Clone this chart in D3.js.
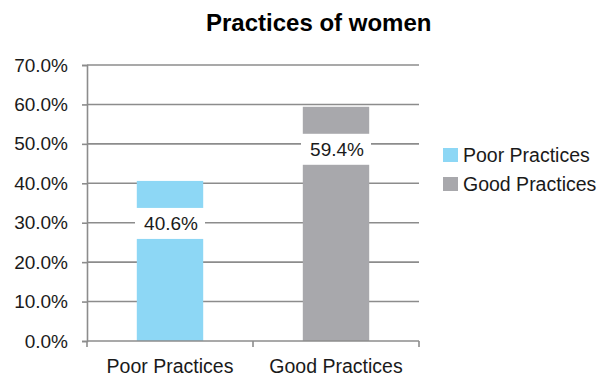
<!DOCTYPE html>
<html>
<head>
<meta charset="utf-8">
<script src="https://cdn.jsdelivr.net/npm/d3@7"></script>
<style>
    body { margin: 0; background: #ffffff; }
    svg { display: block; font-family: "Liberation Sans", Arial, sans-serif; }
</style>
</head>
<body>
<div class="graph-one"></div>
<script>
const categories = ["Poor Practices", "Good Practices"];
const values = [0.406, 0.594];
const barColors = ["#8dd7f5", "#a8a8ac"];
const yTicks = [0, 0.1, 0.2, 0.3, 0.4, 0.5, 0.6, 0.7];
const chartTitle = "Practices of women";

function barChartGenerator(width, height) {
    const configuration = {
        width: width,
        height: height,
        plot: { left: 87, right: 419, top: 65, bottom: 341 },
        grid_color: "#8c8c8c",
        text_color: "#1a1a1a",
        font_size: 19
    };

    const data = categories.map((c, i) => ({ category: c, value: values[i], color: barColors[i] }));

    let scale_x = d3.scaleBand()
        .domain(categories)
        .range([configuration.plot.left, configuration.plot.right]);

    let scale_y = d3.scaleLinear()
        .domain([0, 0.7])
        .range([configuration.plot.bottom, configuration.plot.top]);

    let svg = d3.select(".graph-one")
        .append("svg")
        .attr("width", configuration.width)
        .attr("height", configuration.height);

    // title
    svg.append("text")
        .text(chartTitle)
        .attr("x", 206)
        .attr("y", 31)
        .attr("font-size", 24)
        .attr("font-weight", "bold")
        .attr("fill", "#000000");

    // y axis with gridlines
    let yAxis = svg.append("g")
        .attr("transform", `translate(${configuration.plot.left},0)`)
        .call(d3.axisLeft(scale_y)
            .tickValues(yTicks)
            .tickFormat(d3.format(".1%"))
            .tickSize(5)
            .tickPadding(14));

    yAxis.select(".domain").attr("stroke", configuration.grid_color).attr("stroke-width", 1.6);
    yAxis.selectAll(".tick line").attr("stroke", configuration.grid_color).attr("stroke-width", 1.6);
    yAxis.selectAll(".tick text")
        .attr("font-size", configuration.font_size)
        .attr("font-family", "Liberation Sans, Arial, sans-serif")
        .attr("fill", configuration.text_color);

    svg.append("g")
        .selectAll("line")
        .data(yTicks.filter(d => d > 0))
        .join("line")
        .attr("x1", configuration.plot.left)
        .attr("x2", configuration.plot.right)
        .attr("y1", d => scale_y(d))
        .attr("y2", d => scale_y(d))
        .attr("stroke", configuration.grid_color)
        .attr("stroke-width", 1.6);

    // bars
    const barWidth = scale_x.bandwidth() * 0.4;

    svg.append("g")
        .selectAll("rect")
        .data(data)
        .join("rect")
        .attr("x", d => scale_x(d.category) + (scale_x.bandwidth() - barWidth) / 2)
        .attr("y", d => scale_y(d.value))
        .attr("width", barWidth)
        .attr("height", d => scale_y(0) - scale_y(d.value))
        .attr("fill", d => d.color);

    // x axis baseline and divider ticks
    svg.append("line")
        .attr("x1", configuration.plot.left)
        .attr("x2", configuration.plot.right)
        .attr("y1", scale_y(0))
        .attr("y2", scale_y(0))
        .attr("stroke", configuration.grid_color)
        .attr("stroke-width", 1.6);

    const dividers = categories.map(c => scale_x(c)).concat([scale_x.range()[1]]);
    svg.append("g")
        .selectAll("line")
        .data(dividers)
        .join("line")
        .attr("x1", d => d)
        .attr("x2", d => d)
        .attr("y1", scale_y(0))
        .attr("y2", scale_y(0) + 6)
        .attr("stroke", configuration.grid_color)
        .attr("stroke-width", 1.6);

    svg.append("g")
        .selectAll("text")
        .data(categories)
        .join("text")
        .text(d => d)
        .attr("x", d => scale_x(d) + scale_x.bandwidth() / 2)
        .attr("y", 373)
        .attr("text-anchor", "middle")
        .attr("font-size", 19.5)
        .attr("fill", configuration.text_color);

    // data labels on white boxes
    let labels = svg.append("g")
        .selectAll("g")
        .data(data)
        .join("g");

    labels.append("rect")
        .attr("x", d => scale_x(d.category) + scale_x.bandwidth() / 2 - 35)
        .attr("y", d => scale_y(d.value) + 27)
        .attr("width", 70)
        .attr("height", 31)
        .attr("fill", "#ffffff");

    labels.append("text")
        .text(d => d3.format(".1%")(d.value))
        .attr("x", d => scale_x(d.category) + scale_x.bandwidth() / 2 + 1)
        .attr("y", d => scale_y(d.value) + 49)
        .attr("text-anchor", "middle")
        .attr("font-size", configuration.font_size)
        .attr("fill", configuration.text_color);

    // legend
    let legend = svg.append("g")
        .selectAll("g")
        .data(data)
        .join("g")
        .attr("transform", (d, i) => `translate(443,${148 + i * 29})`);

    legend.append("rect")
        .attr("width", 15)
        .attr("height", 14)
        .attr("fill", d => d.color);

    legend.append("text")
        .text(d => d.category)
        .attr("x", 20)
        .attr("y", 14)
        .attr("font-size", 19.5)
        .attr("fill", configuration.text_color);
}

barChartGenerator(598, 376);
</script>
</body>
</html>
